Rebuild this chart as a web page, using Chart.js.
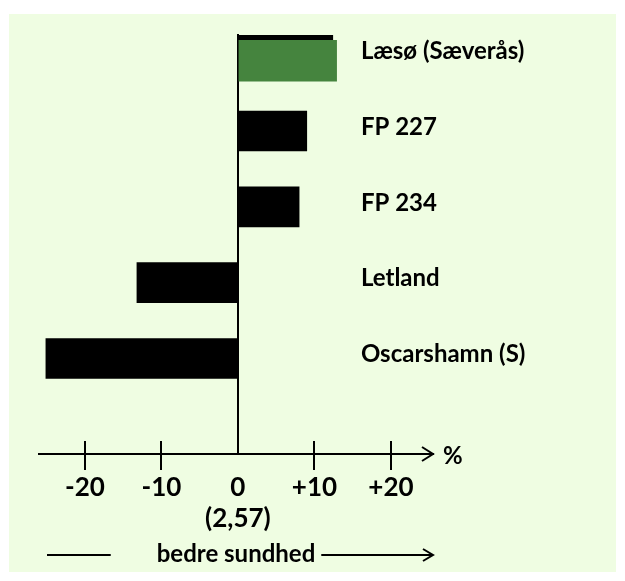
<!DOCTYPE html>
<html>
<head>
<meta charset="utf-8">
<script src="https://cdn.jsdelivr.net/npm/chart.js@4.4.1/dist/chart.umd.min.js"></script>
<style>
  body { margin: 0; background: #ffffff; }
</style>
</head>
<body>
<canvas id="chart" width="625" height="581"></canvas>
<script>
// data (percent)
const categories = ['Læsø (Sæverås)', 'FP 227', 'FP 234', 'Letland', 'Oscarshamn (S)'];
const values = [12.4, 9.0, 8.0, -13.2, -25.1];
const highlightValues = [12.9]; // green bar, Læsø only
const tickValues = [-20, -10, 0, 10, 20];
const tickLabels = ['-20', '-10', ['0', '(2,57)'], '+10', '+20'];
const axisUnit = '%';
const axisTitle = 'bedre sundhed';

const panelColor = '#effde2';
const font = 'Lato';

const decorations = {
    id: 'decorations',
    beforeDraw(chart) {
        const ctx = chart.ctx;
        ctx.save();
        ctx.fillStyle = panelColor;
        ctx.fillRect(9, 14, 607, 558);
        ctx.restore();
    },
    afterDraw(chart) {
        const ctx = chart.ctx;
        const x = chart.scales.x;
        const y = chart.scales.y;
        const area = chart.chartArea;
        const axisY = area.bottom;
        ctx.save();
        ctx.strokeStyle = '#000';
        ctx.fillStyle = '#000';
        ctx.lineWidth = 2;

        // tick marks crossing the axis
        tickValues.forEach(v => {
            if (v === 0) return;
            const px = Math.round(x.getPixelForValue(v));
            ctx.beginPath();
            ctx.moveTo(px, axisY - 13);
            ctx.lineTo(px, axisY + 16);
            ctx.stroke();
        });

        // arrow head on axis
        ctx.beginPath();
        ctx.moveTo(area.right - 11, axisY - 7);
        ctx.lineTo(area.right, axisY);
        ctx.lineTo(area.right - 11, axisY + 7);
        ctx.stroke();

        ctx.font = 'bold 24px ' + font;
        ctx.textBaseline = 'middle';
        ctx.textAlign = 'left';
        ctx.fillText(axisUnit, area.right + 10, axisY + 2);

        // category labels
        ctx.font = 'bold 24px ' + font;
        const labelX = x.getPixelForValue(0) + 123;
        categories.forEach((c, i) => {
            ctx.fillText(c, labelX, y.getPixelForValue(i) - 4);
        });

        // arrows around the axis title
        ctx.font = 'bold 24px ' + font;
        const w = ctx.measureText(axisTitle).width;
        const cx = (area.left + area.right) / 2;
        const ty = 555;
        ctx.beginPath();
        ctx.moveTo(area.left + 8, ty);
        ctx.lineTo(cx - w / 2 - 46, ty);
        ctx.moveTo(cx + w / 2 + 6, ty);
        ctx.lineTo(area.right, ty);
        ctx.moveTo(area.right - 10, ty - 6);
        ctx.lineTo(area.right, ty);
        ctx.lineTo(area.right - 10, ty + 6);
        ctx.stroke();
        ctx.restore();
    }
};

const yMin = -0.28, yMax = 5.26, hiShift = 0.073;

new Chart(document.getElementById('chart'), {
    type: 'bar',
    data: {
        datasets: [{
            data: highlightValues.map((v, i) => ({ x: v, y: i })),
            backgroundColor: '#45843e',
            barThickness: 41,
            grouped: false,
            yAxisID: 'yHi'
        }, {
            data: values.map((v, i) => ({ x: v, y: i })),
            backgroundColor: '#000000',
            barThickness: 40,
            grouped: false,
            yAxisID: 'y'
        }]
    },
    options: {
        indexAxis: 'y',
        responsive: false,
        animation: false,
        events: [],
        layout: { padding: { left: 39, right: 192, top: 34, bottom: 0 } },
        plugins: { legend: { display: false }, tooltip: { enabled: false } },
        scales: {
            x: {
                type: 'linear',
                min: -26,
                max: 25.5,
                afterBuildTicks: scale => { scale.ticks = tickValues.map(v => ({ value: v })); },
                afterFit: scale => { scale.height = 127; },
                grid: {
                    drawTicks: false,
                    lineWidth: 2,
                    color: c => (c.tick && c.tick.value === 0) ? '#000' : 'rgba(0,0,0,0)'
                },
                border: { display: true, color: '#000', width: 2 },
                ticks: {
                    padding: 18,
                    color: '#000',
                    font: { family: font, size: 26, weight: 'bold', lineHeight: 1.2 },
                    callback: (v, i) => tickLabels[tickValues.indexOf(v)]
                },
                title: {
                    display: true,
                    text: axisTitle,
                    color: '#000',
                    font: { family: font, size: 24, weight: 'bold' },
                    padding: { top: 0, bottom: 12 }
                }
            },
            y: { type: 'linear', reverse: true, offset: false, min: yMin, max: yMax, display: false },
            yHi: { type: 'linear', reverse: true, offset: false, min: yMin - hiShift, max: yMax - hiShift, display: false }
        }
    },
    plugins: [decorations]
});
</script>
</body>
</html>
